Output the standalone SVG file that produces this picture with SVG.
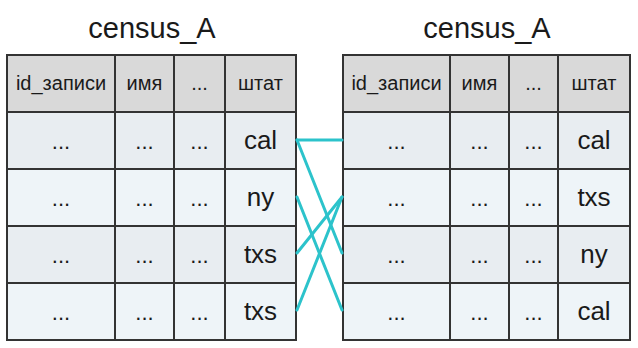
<svg xmlns="http://www.w3.org/2000/svg" width="638" height="348" viewBox="0 0 638 348">
<style>
text{font-family:"Liberation Sans",Arial,sans-serif;fill:#1a1a1a;text-anchor:middle}
.title{font-size:29px}
.hd{font-size:20px}
.val{font-size:26px}
.dots{font-size:22px}
.h{fill:#d9d9d9}
.r1{fill:#e8edf1}
.r2{fill:#eef4f8}
.grid{stroke:#333;stroke-width:2;fill:none}
.conn{stroke:#2cc3cb;stroke-width:3;fill:none;stroke-linecap:round}
</style>
<rect width="638" height="348" fill="#fff"/>
<g id="table-left">
<text class="title" x="152" y="38">census_A</text>
<rect class="h" x="7" y="55" width="289" height="57"/>
<rect class="r1" x="7" y="112" width="289" height="57"/>
<rect class="r2" x="7" y="169" width="289" height="57"/>
<rect class="r1" x="7" y="226" width="289" height="57"/>
<rect class="r2" x="7" y="283" width="289" height="57"/>
<path class="grid" d="M7 55H296V340H7Z M7 112H296 M7 169H296 M7 226H296 M7 283H296 M115 55V340 M174 55V340 M225 55V340"/>
<text class="hd" x="61" y="90">id_записи</text>
<text class="hd" x="144.5" y="90">имя</text>
<text class="hd" x="199.5" y="90">...</text>
<text class="hd" x="260.5" y="90">штат</text>
<text class="dots" x="61" y="149">...</text><text class="dots" x="144.5" y="149">...</text><text class="dots" x="199.5" y="149">...</text><text class="val" x="260.5" y="149">cal</text>
<text class="dots" x="61" y="206">...</text><text class="dots" x="144.5" y="206">...</text><text class="dots" x="199.5" y="206">...</text><text class="val" x="260.5" y="206">ny</text>
<text class="dots" x="61" y="263">...</text><text class="dots" x="144.5" y="263">...</text><text class="dots" x="199.5" y="263">...</text><text class="val" x="260.5" y="263">txs</text>
<text class="dots" x="61" y="320">...</text><text class="dots" x="144.5" y="320">...</text><text class="dots" x="199.5" y="320">...</text><text class="val" x="260.5" y="320">txs</text>
</g>
<g id="table-right">
<text class="title" x="487" y="38">census_A</text>
<rect class="h" x="343" y="55" width="287" height="57"/>
<rect class="r1" x="343" y="112" width="287" height="57"/>
<rect class="r2" x="343" y="169" width="287" height="57"/>
<rect class="r1" x="343" y="226" width="287" height="57"/>
<rect class="r2" x="343" y="283" width="287" height="57"/>
<path class="grid" d="M343 55H630V340H343Z M343 112H630 M343 169H630 M343 226H630 M343 283H630 M450 55V340 M509 55V340 M558 55V340"/>
<text class="hd" x="396.5" y="90">id_записи</text>
<text class="hd" x="479.5" y="90">имя</text>
<text class="hd" x="533.5" y="90">...</text>
<text class="hd" x="594" y="90">штат</text>
<text class="dots" x="396.5" y="149">...</text><text class="dots" x="479.5" y="149">...</text><text class="dots" x="533.5" y="149">...</text><text class="val" x="594" y="149">cal</text>
<text class="dots" x="396.5" y="206">...</text><text class="dots" x="479.5" y="206">...</text><text class="dots" x="533.5" y="206">...</text><text class="val" x="594" y="206">txs</text>
<text class="dots" x="396.5" y="263">...</text><text class="dots" x="479.5" y="263">...</text><text class="dots" x="533.5" y="263">...</text><text class="val" x="594" y="263">ny</text>
<text class="dots" x="396.5" y="320">...</text><text class="dots" x="479.5" y="320">...</text><text class="dots" x="533.5" y="320">...</text><text class="val" x="594" y="320">cal</text>
</g>
<g id="connectors">
<line class="conn" x1="297" y1="140" x2="342" y2="140"/>
<line class="conn" x1="297" y1="140" x2="342" y2="253"/>
<line class="conn" x1="297" y1="197" x2="342" y2="310"/>
<line class="conn" x1="297" y1="253" x2="342" y2="197"/>
<line class="conn" x1="297" y1="310" x2="342" y2="197"/>
</g>
</svg>
